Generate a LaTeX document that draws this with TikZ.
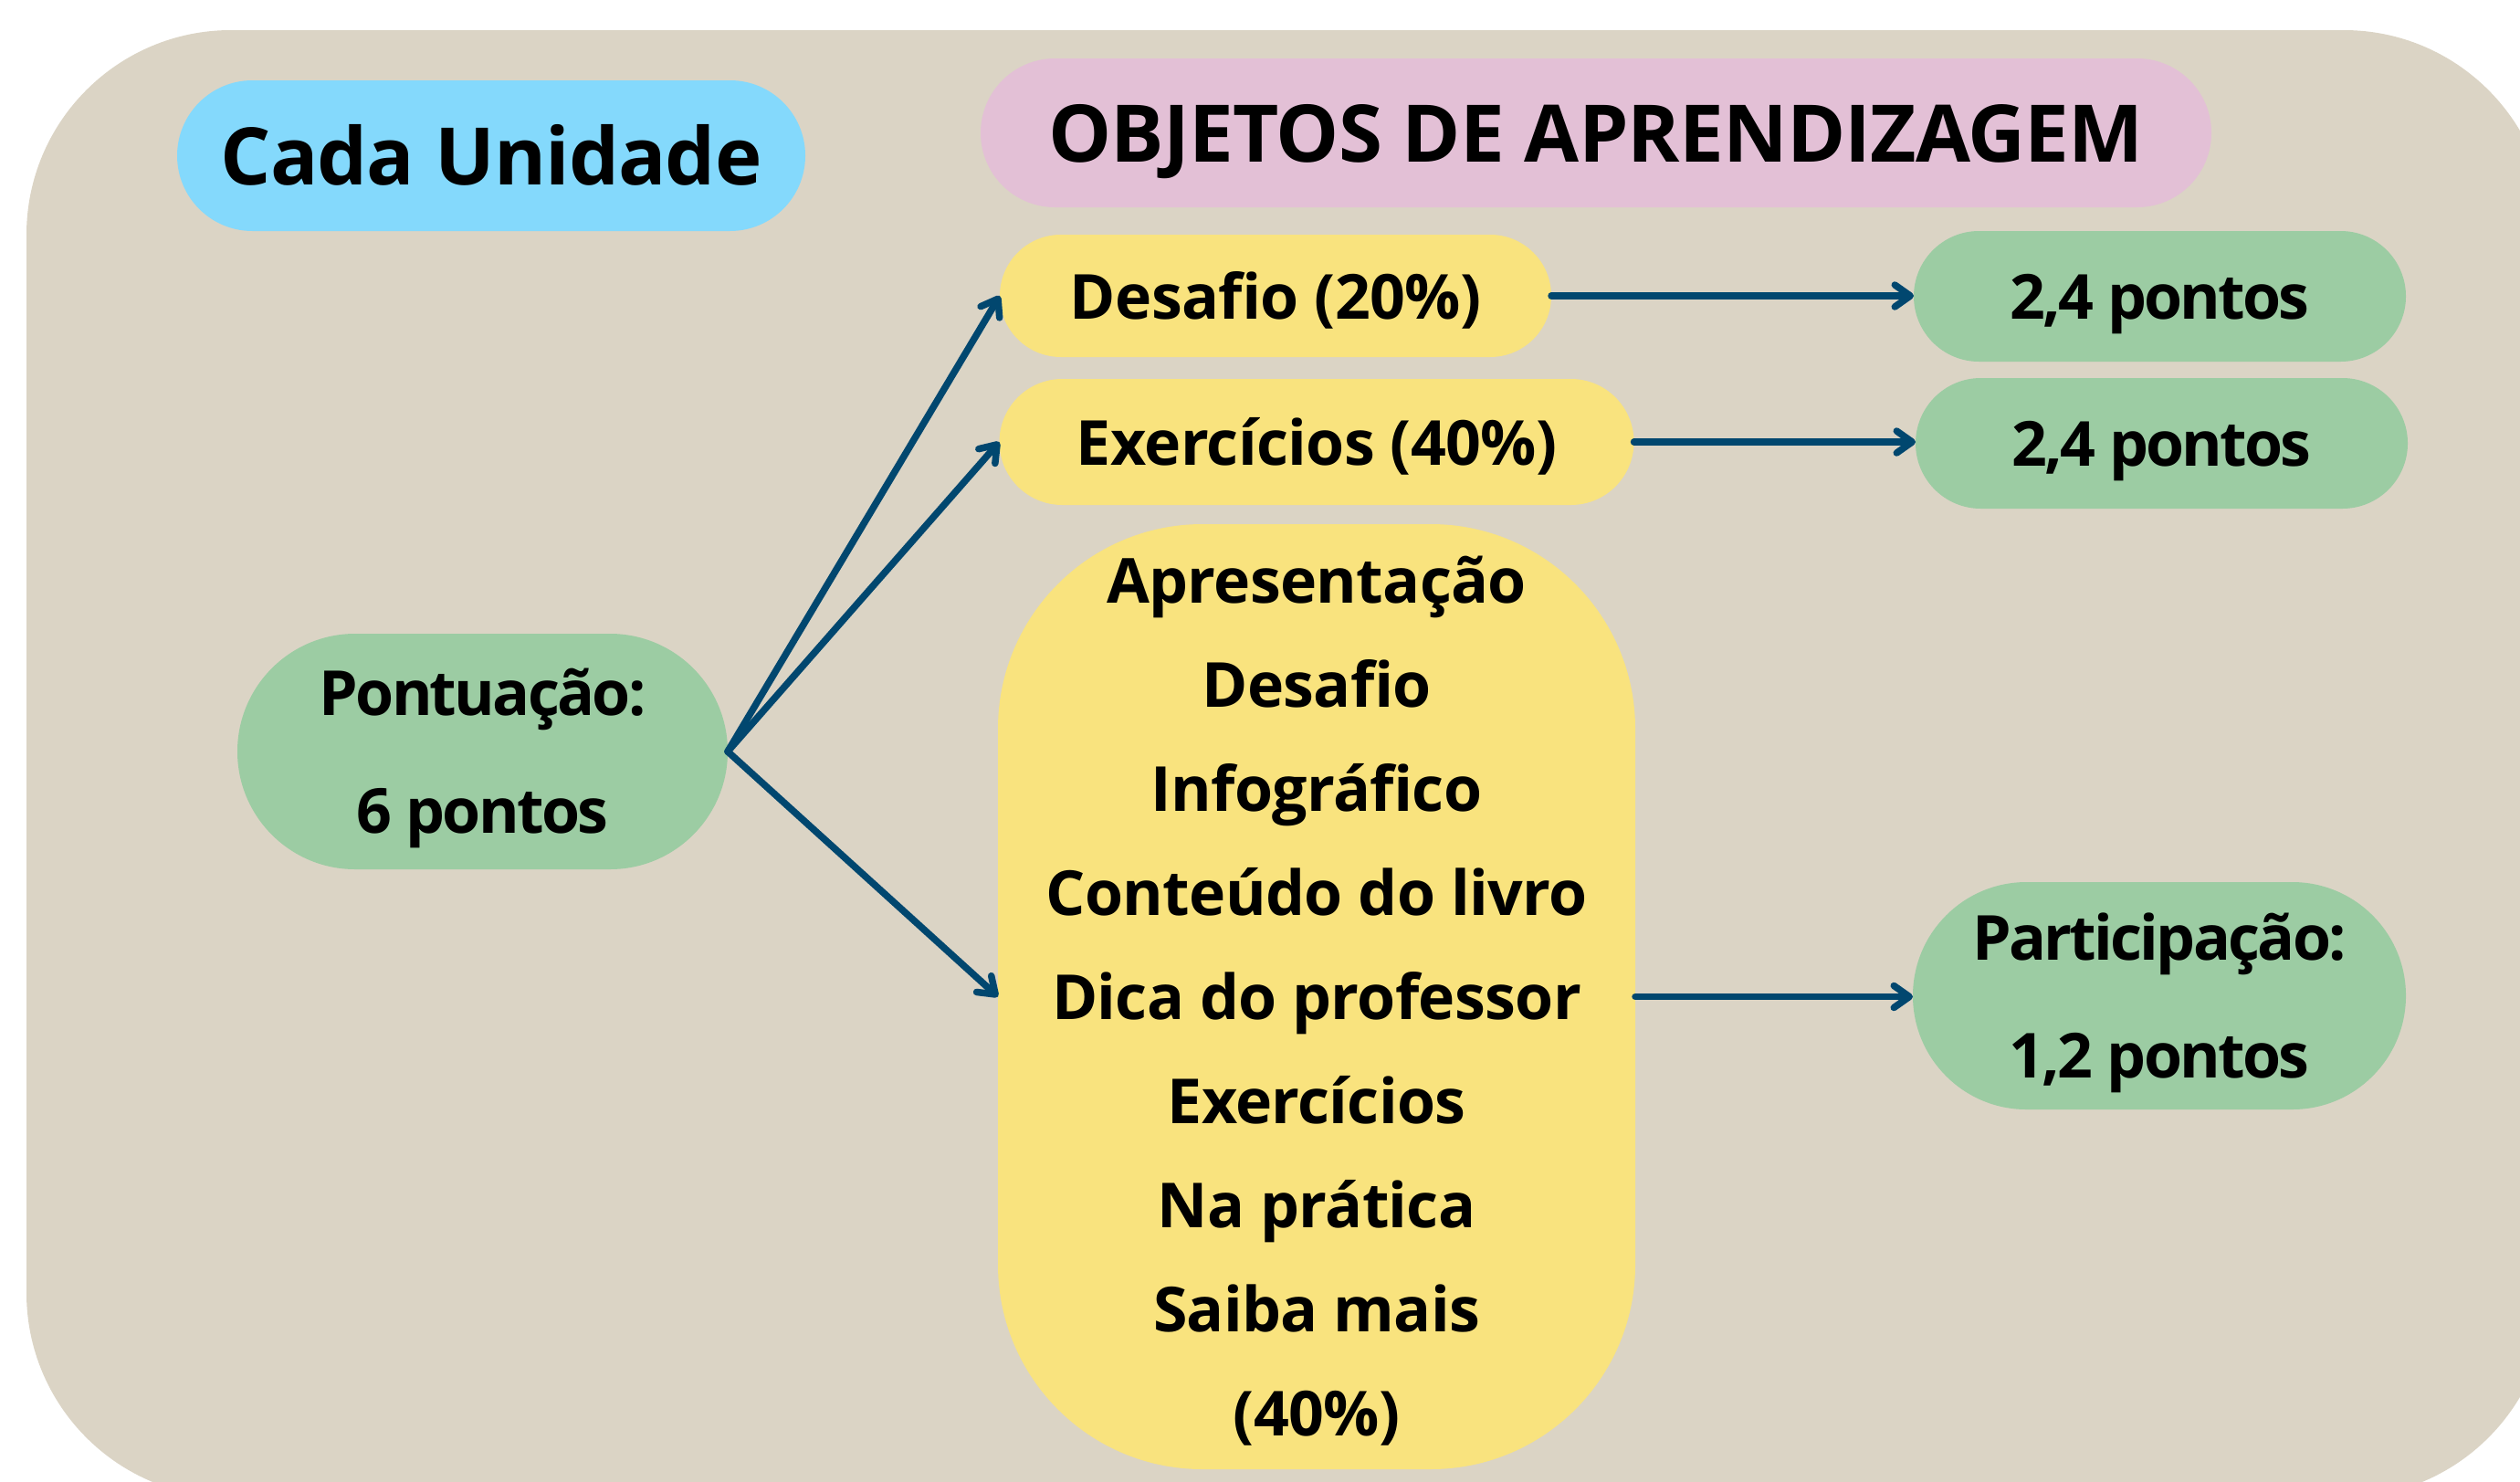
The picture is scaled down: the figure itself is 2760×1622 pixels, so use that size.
\documentclass[tikz,border=0pt]{standalone}
\usepackage{fontspec}
\setmainfont{Open Sans}
\newfontfamily\gfont[LetterSpace=-4]{Open Sans}
\newfontfamily\yfont[LetterSpace=-1]{Open Sans}
\usetikzlibrary{arrows.meta}
\definecolor{bgc}{HTML}{DBD4C5}
\definecolor{bluec}{HTML}{84D9FC}
\definecolor{pinkc}{HTML}{E3C0D6}
\definecolor{yelc}{HTML}{F9E37E}
\definecolor{grnc}{HTML}{9CCCA3}
\definecolor{arrc}{HTML}{01476F}
\newcommand\ls{\rule[-0.3em]{0pt}{1.34em}}
\begin{document}
\begin{tikzpicture}[x=0.5pt,y=-0.5pt,
  box/.style={inner sep=0pt, outer sep=0pt, align=center},
  hfont/.style={font=\yfont\bfseries\fontsize{43.5pt}{52pt}\selectfont},
  yfnt/.style={font=\yfont\bfseries\fontsize{34pt}{57pt}\selectfont},
  gfnt/.style={font=\gfont\bfseries\fontsize{34pt}{64.5pt}\selectfont},
  conn/.style={draw=arrc, line width=3.75pt, line cap=round,
    -{Straight Barb[length=8.5pt,width=12pt,line cap=round,line join=round]}}]
\useasboundingbox (0,0) rectangle (2760,1622);
\begin{scope}
  \clip (0,0) rectangle (2760,1622);
  \fill[bgc, rounded corners=112pt] (29,33) rectangle (2791,1640);
\end{scope}
% headers
\node[box, hfont, fill=bluec, minimum width=344pt, minimum height=82.5pt, rounded corners=41.25pt] (cada) at (538,170.5) {\ls Cada Unidade};
\node[box, hfont, fill=pinkc, minimum width=674pt, minimum height=81.5pt, rounded corners=40.75pt] (obj) at (1748,145.5) {\ls OBJETOS DE APRENDIZAGEM};
% left
\node[box, gfnt, fill=grnc, minimum width=268.5pt, minimum height=129pt, rounded corners=64.5pt] (pont) at (528.5,823) {\ls Pontuação:\\\ls 6 pontos};
% middle
\node[box, yfnt, fill=yelc, minimum width=302pt, minimum height=67pt, rounded corners=33.5pt] (desafio) at (1397,324) {\ls Desafio (20\%)};
\node[box, yfnt, fill=yelc, minimum width=347.5pt, minimum height=69pt, rounded corners=34.5pt] (exerc) at (1442,484) {\ls Exercícios (40\%)};
\node[box, yfnt, fill=yelc, minimum width=349pt, minimum height=517.5pt, rounded corners=112pt] (big) at (1442,1091.5)
  {\ls Apresentação\\\ls Desafio\\\ls Infográfico\\\ls Conteúdo do livro\\\ls Dica do professor\\\ls Exercícios\\\ls Na prática\\\ls Saiba mais\\\ls (40\%)};
% right
\node[box, gfnt, fill=grnc, minimum width=269.5pt, minimum height=71.5pt, rounded corners=35.75pt] (p1) at (2365.5,324.5) {\ls 2,4 pontos};
\node[box, gfnt, fill=grnc, minimum width=269.5pt, minimum height=71.5pt, rounded corners=35.75pt] (p2) at (2367.5,485.5) {\ls 2,4 pontos};
\node[box, gfnt, fill=grnc, minimum width=270pt, minimum height=124.5pt, rounded corners=62.25pt] (part) at (2365,1090.5) {\ls Participação:\\\ls 1,2 pontos};
% connectors
\draw[conn] (pont.east) -- (desafio.west);
\draw[conn] (pont.east) -- (exerc.west);
\draw[conn] (pont.east) -- (big.west);
\draw[conn] (desafio.east) -- (desafio.east -| p1.west);
\draw[conn] (exerc.east) -- (exerc.east -| p2.west);
\draw[conn] (big.east) -- (big.east -| part.west);
\end{tikzpicture}
\end{document}
